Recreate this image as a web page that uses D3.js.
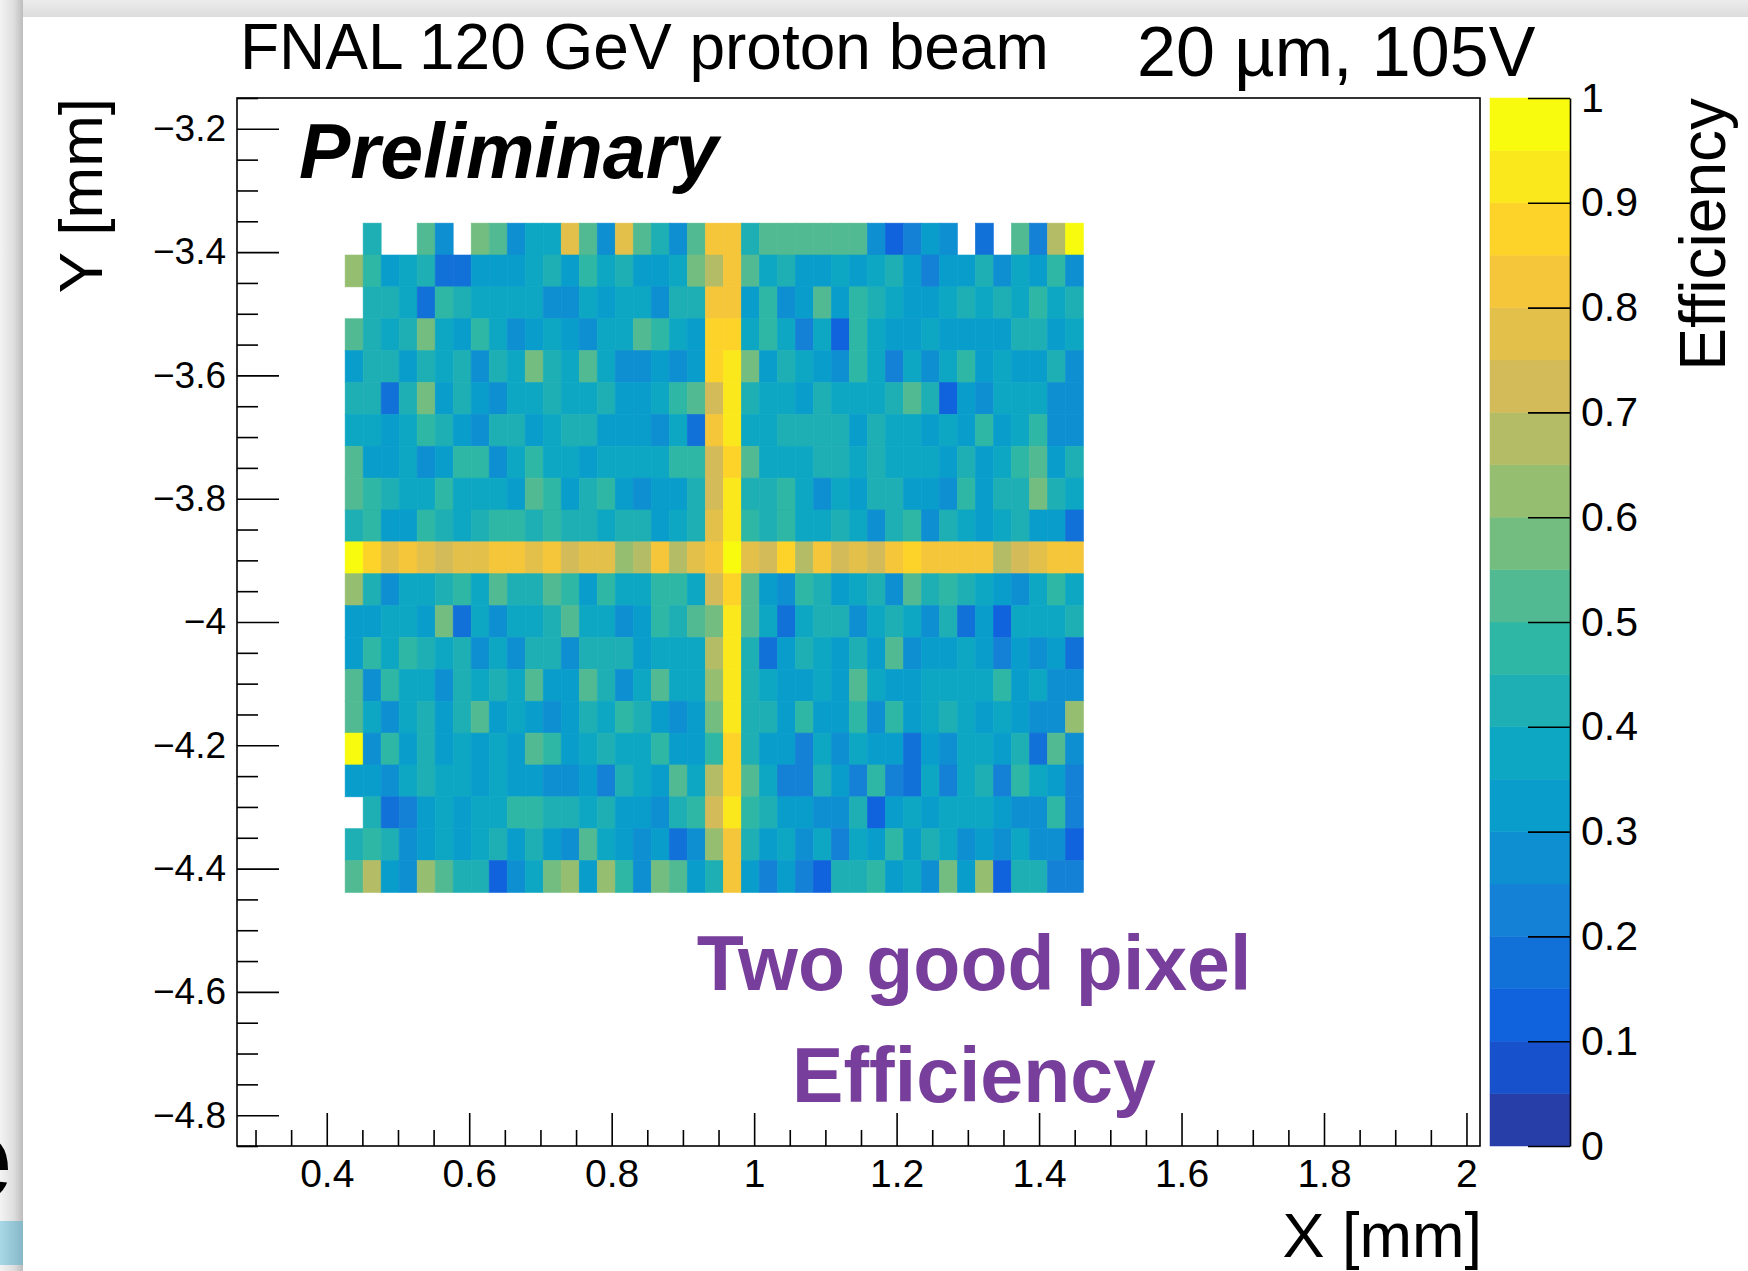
<!DOCTYPE html>
<html lang="en">
<head>
<meta charset="UTF-8">
<title>Two good pixel efficiency</title>
<script src="https://cdn.jsdelivr.net/npm/d3@7"></script>
<style>
    body { margin: 0; background: #fff; }
    svg { display: block; font-family: "Liberation Sans", Arial, Helvetica, sans-serif; }
</style>
</head>
<body>
<div id="chart"></div>
<script>

    // efficiency per bin, one array per Y row (top row first), 41 X bins each, null = no hits
    const effRow0  = [null,.42,null,null,.52,.27,null,.57,.52,.27,.37,.37,.77,.52,.27,.77,.52,.42,.27,.52,.82,.82,.42,.52,.52,.52,.52,.52,.52,.27,.12,.22,.32,.27,null,.17,null,.52,.22,.67,.97];
    const effRow1  = [.62,.47,.32,.37,.42,.17,.17,.32,.32,.32,.37,.42,.32,.47,.37,.42,.32,.32,.37,.57,.67,.82,.52,.37,.42,.32,.32,.37,.32,.37,.42,.32,.22,.32,.32,.42,.27,.37,.32,.47,.27];
    const effRow2  = [null,.42,.42,.37,.17,.47,.42,.37,.37,.37,.37,.27,.27,.37,.32,.37,.37,.27,.42,.42,.82,.82,.32,.47,.27,.32,.52,.32,.47,.42,.37,.32,.32,.37,.42,.37,.42,.37,.47,.37,.42];
    const effRow3  = [.52,.42,.37,.42,.57,.37,.32,.47,.37,.27,.32,.37,.32,.27,.37,.37,.52,.47,.37,.32,.87,.87,.37,.47,.37,.22,.37,.12,.47,.37,.32,.32,.37,.32,.32,.32,.32,.42,.42,.32,.37];
    const effRow4  = [.32,.42,.42,.32,.42,.37,.42,.27,.42,.37,.57,.42,.37,.52,.37,.27,.27,.32,.27,.32,.87,.92,.57,.32,.42,.37,.32,.27,.47,.37,.22,.37,.27,.37,.47,.32,.37,.32,.32,.42,.27];
    const effRow5  = [.42,.42,.17,.42,.57,.32,.42,.32,.27,.37,.37,.42,.37,.37,.42,.32,.32,.37,.47,.52,.72,.92,.42,.37,.37,.32,.42,.37,.37,.37,.42,.52,.42,.12,.32,.27,.37,.37,.37,.27,.27];
    const effRow6  = [.37,.37,.32,.37,.47,.42,.32,.27,.42,.42,.32,.37,.42,.42,.32,.32,.32,.27,.37,.17,.82,.92,.37,.37,.42,.42,.42,.42,.32,.42,.37,.37,.32,.37,.32,.47,.32,.37,.47,.27,.27];
    const effRow7  = [.52,.32,.32,.37,.27,.32,.47,.47,.27,.37,.47,.37,.37,.32,.37,.37,.37,.37,.47,.47,.72,.87,.52,.37,.37,.37,.42,.42,.37,.42,.37,.37,.37,.32,.42,.32,.37,.47,.52,.32,.42];
    const effRow8  = [.52,.47,.42,.37,.37,.47,.37,.37,.37,.32,.52,.47,.32,.42,.47,.32,.27,.32,.32,.42,.72,.92,.42,.42,.47,.37,.27,.37,.32,.42,.42,.32,.32,.27,.47,.32,.42,.42,.57,.42,.37];
    const effRow9  = [.42,.47,.32,.32,.47,.42,.37,.42,.47,.47,.42,.47,.42,.42,.37,.42,.42,.32,.37,.42,.77,.92,.47,.42,.47,.37,.37,.42,.37,.27,.42,.47,.27,.42,.37,.32,.37,.42,.32,.32,.17];
    const effRow10 = [.97,.87,.77,.82,.77,.72,.77,.77,.82,.82,.77,.82,.72,.77,.77,.62,.67,.82,.67,.77,.82,.97,.77,.72,.87,.67,.82,.72,.77,.72,.82,.87,.82,.82,.82,.82,.67,.72,.77,.82,.82];
    const effRow11 = [.62,.42,.27,.37,.37,.42,.47,.37,.52,.42,.42,.52,.47,.32,.47,.37,.37,.47,.47,.37,.72,.87,.52,.32,.27,.47,.42,.32,.37,.42,.27,.52,.42,.47,.42,.37,.32,.27,.37,.47,.37];
    const effRow12 = [.32,.32,.37,.37,.32,.57,.17,.37,.27,.37,.37,.42,.52,.37,.37,.27,.32,.47,.42,.52,.57,.92,.52,.37,.17,.37,.42,.42,.27,.37,.42,.37,.27,.42,.17,.32,.12,.37,.37,.37,.42];
    const effRow13 = [.32,.47,.37,.47,.42,.37,.42,.27,.37,.27,.42,.42,.27,.42,.42,.42,.32,.37,.37,.37,.67,.92,.42,.17,.32,.42,.37,.32,.42,.32,.52,.27,.32,.32,.37,.32,.22,.32,.27,.32,.17];
    const effRow14 = [.52,.27,.47,.37,.37,.27,.42,.37,.42,.37,.52,.32,.32,.52,.42,.27,.37,.52,.37,.37,.62,.92,.42,.37,.32,.32,.37,.32,.52,.37,.32,.32,.37,.37,.37,.37,.47,.32,.37,.27,.27];
    const effRow15 = [.52,.37,.27,.37,.42,.32,.42,.52,.32,.37,.32,.27,.32,.42,.37,.47,.42,.32,.27,.32,.57,.92,.42,.42,.32,.47,.32,.32,.47,.27,.47,.32,.37,.42,.37,.32,.37,.32,.27,.27,.62];
    const effRow16 = [.97,.27,.47,.32,.42,.32,.37,.32,.37,.32,.52,.47,.32,.37,.42,.37,.37,.47,.32,.32,.47,.87,.42,.32,.32,.22,.37,.27,.37,.32,.32,.17,.32,.27,.37,.37,.32,.42,.17,.52,.27];
    const effRow17 = [.32,.32,.27,.37,.42,.37,.37,.32,.37,.32,.32,.27,.27,.32,.22,.42,.37,.32,.52,.37,.67,.87,.52,.37,.22,.22,.42,.32,.22,.47,.22,.17,.37,.22,.37,.42,.22,.47,.37,.32,.22];
    const effRow18 = [null,.42,.17,.22,.32,.37,.32,.37,.37,.47,.47,.42,.42,.37,.42,.32,.32,.27,.42,.47,.72,.92,.47,.42,.32,.32,.27,.27,.42,.12,.32,.37,.32,.37,.37,.37,.32,.27,.27,.47,.22];
    const effRow19 = [.42,.47,.42,.27,.32,.37,.32,.37,.42,.32,.42,.32,.27,.52,.37,.32,.27,.32,.17,.27,.62,.82,.42,.32,.37,.27,.37,.22,.37,.32,.47,.32,.42,.37,.27,.32,.27,.37,.27,.27,.12];
    const effRow20 = [.52,.67,.32,.27,.62,.52,.42,.42,.12,.27,.37,.57,.62,.32,.62,.47,.27,.57,.52,.32,.42,.82,.32,.22,.32,.22,.12,.42,.42,.47,.32,.37,.27,.57,.32,.62,.12,.42,.42,.22,.22];

    const effRows = [effRow0, effRow1, effRow2, effRow3, effRow4, effRow5, effRow6, effRow7, effRow8, effRow9, effRow10,
        effRow11, effRow12, effRow13, effRow14, effRow15, effRow16, effRow17, effRow18, effRow19, effRow20];

    // histogram binning [mm]
    const xBinLo = 0.4258, xBinW = 0.02528;
    const yBinHi = -3.353, yBinH = 0.0517;

    // tick labels
    const xTicks = [0.4, 0.6, 0.8, 1, 1.2, 1.4, 1.6, 1.8, 2];
    const yTicks = [-3.2, -3.4, -3.6, -3.8, -4, -4.2, -4.4, -4.6, -4.8];
    const zTicks = [0, 0.1, 0.2, 0.3, 0.4, 0.5, 0.6, 0.7, 0.8, 0.9, 1];

    const W = 1748, H = 1271;
    const frame = {left: 237, right: 1480, top: 98, bottom: 1146};

    const svg = d3.select("#chart")
        .append("svg")
        .attr("width", W)
        .attr("height", H);

    const defs = svg.append("defs");
    const gTop = defs.append("linearGradient").attr("id", "gTop").attr("x1", 0).attr("x2", 0).attr("y1", 0).attr("y2", 1);
    gTop.append("stop").attr("offset", 0).attr("stop-color", "#ececec");
    gTop.append("stop").attr("offset", 1).attr("stop-color", "#dcdcdc");
    const gLeft = defs.append("linearGradient").attr("id", "gLeft");
    gLeft.append("stop").attr("offset", 0).attr("stop-color", "#f3f3f3");
    gLeft.append("stop").attr("offset", 0.6).attr("stop-color", "#dedede");
    gLeft.append("stop").attr("offset", 1).attr("stop-color", "#bdbdbd");
    const gBlue = defs.append("linearGradient").attr("id", "gBlue");
    gBlue.append("stop").attr("offset", 0).attr("stop-color", "#a8d8e6");
    gBlue.append("stop").attr("offset", 1).attr("stop-color", "#86b8c8");

    // slide background bits around the picture
    svg.append("rect").attr("width", W).attr("height", H).attr("fill", "#fff");
    svg.append("rect").attr("width", W).attr("height", 17).attr("fill", "url(#gTop)");
    svg.append("rect").attr("width", 23).attr("height", H).attr("fill", "url(#gLeft)");
    svg.append("rect").attr("y", 1221).attr("width", 23).attr("height", 44).attr("fill", "url(#gBlue)");
    svg.append("text").attr("x", -52).attr("y", 1198)
        .attr("font-size", 115).attr("font-weight", "bold").text("e");

    // scales
    const x = d3.scaleLinear().domain([0.274, 2.019]).range([frame.left, frame.right]);
    const y = d3.scaleLinear().domain([-4.85, -3.15]).range([frame.bottom, frame.top]);
    const z = d3.scaleLinear().domain([0, 1]).range([frame.bottom, frame.top]);

    // ROOT kBird palette, 20 contours
    const birdStops = [0, 0.125, 0.25, 0.375, 0.5, 0.625, 0.75, 0.875, 1];
    const birdCols = ["rgb(53,42,135)", "rgb(15,92,221)", "rgb(20,129,214)", "rgb(6,164,202)", "rgb(46,183,164)",
        "rgb(135,191,119)", "rgb(209,187,89)", "rgb(254,200,50)", "rgb(249,251,14)"];
    const bird = d3.scaleLinear().domain(birdStops).range(birdCols).interpolate(d3.interpolateRgb);
    const nCont = 20;
    const contColor = i => bird(Math.floor((i + 0.99) * 255 / nCont) / 254);
    const cellColor = v => contColor(Math.max(0, Math.min(nCont - 1, Math.floor(v * nCont + 1e-9))));

    // cells
    const cells = [];
    effRows.forEach((row, r) => row.forEach((v, c) => {
        if (v !== null) cells.push({r: r, c: c, v: v});
    }));

    svg.append("g")
        .selectAll("rect")
        .data(cells)
        .enter()
        .append("rect")
        .attr("x", d => x(xBinLo + d.c * xBinW))
        .attr("width", d => x(xBinLo + (d.c + 1) * xBinW) - x(xBinLo + d.c * xBinW))
        .attr("y", d => y(yBinHi - d.r * yBinH))
        .attr("height", d => y(yBinHi - (d.r + 1) * yBinH) - y(yBinHi - d.r * yBinH))
        .attr("fill", d => cellColor(d.v))
        .attr("stroke", d => cellColor(d.v))
        .attr("stroke-width", 0.6);

    // frame
    svg.append("rect")
        .attr("x", frame.left).attr("y", frame.top)
        .attr("width", frame.right - frame.left).attr("height", frame.bottom - frame.top)
        .attr("fill", "none").attr("stroke", "#000").attr("stroke-width", 1.6);

    // x axis
    const xMinor = d3.range(0.3, 2.01, 0.05).filter(v => !xTicks.some(t => Math.abs(t - v) < 1e-6));
    svg.append("g")
        .attr("transform", "translate(0," + frame.bottom + ")")
        .call(d3.axisBottom(x).tickValues(xMinor).tickFormat("").tickSizeInner(-16).tickSizeOuter(0))
        .call(g => g.select(".domain").remove());
    svg.append("g")
        .attr("class", "axis-x")
        .attr("transform", "translate(0," + frame.bottom + ")")
        .call(d3.axisBottom(x).tickValues(xTicks).tickFormat(d3.format("~g")).tickSizeInner(-33).tickSizeOuter(0).tickPadding(13))
        .call(g => g.select(".domain").remove());

    // y axis
    const yMinor = d3.range(-3.15, -4.86, -0.05).filter(v => !yTicks.some(t => Math.abs(t - v) < 1e-6));
    svg.append("g")
        .attr("transform", "translate(" + frame.left + ",0)")
        .call(d3.axisLeft(y).tickValues(yMinor).tickFormat("").tickSizeInner(-21).tickSizeOuter(0))
        .call(g => g.select(".domain").remove());
    svg.append("g")
        .attr("class", "y-axis")
        .attr("transform", "translate(" + frame.left + ",0)")
        .call(d3.axisLeft(y).tickValues(yTicks).tickFormat(d3.format("~g")).tickSizeInner(-42).tickSizeOuter(0).tickPadding(11))
        .call(g => g.select(".domain").remove());

    svg.selectAll(".axis-x text").attr("font-size", 39).attr("font-family", "Liberation Sans, Arial, sans-serif").attr("fill", "#000");
    svg.selectAll(".y-axis text").attr("font-size", 37).attr("font-family", "Liberation Sans, Arial, sans-serif").attr("fill", "#000");
    svg.selectAll(".tick line").attr("stroke", "#000").attr("stroke-width", 1.6);

    // colour bar
    const zBar = {left: 1490, right: 1570};
    svg.append("g")
        .selectAll("rect")
        .data(d3.range(nCont))
        .enter()
        .append("rect")
        .attr("x", zBar.left)
        .attr("width", zBar.right - zBar.left)
        .attr("y", i => z((i + 1) / nCont))
        .attr("height", i => z(i / nCont) - z((i + 1) / nCont))
        .attr("fill", i => contColor(i))
        .attr("stroke", i => contColor(i))
        .attr("stroke-width", 0.5);

    const zAxis = svg.append("g")
        .attr("class", "z-axis")
        .attr("transform", "translate(" + zBar.right + ",0)")
        .call(d3.axisRight(z).tickValues(zTicks).tickFormat(d3.format("~g")).tickSizeInner(-42).tickSizeOuter(0).tickPadding(11));
    zAxis.select(".domain").attr("stroke", "#000").attr("stroke-width", 1.6);
    zAxis.selectAll("line").attr("stroke", "#000").attr("stroke-width", 1.6);
    zAxis.selectAll("text").attr("font-size", 41).attr("font-family", "Liberation Sans, Arial, sans-serif").attr("fill", "#000");

    // titles
    svg.append("text").attr("x", 240).attr("y", 69).attr("font-size", 64).text("FNAL 120 GeV proton beam");
    svg.append("text").attr("x", 1137).attr("y", 76).attr("font-size", 70).text("20 \u00b5m, 105V");
    svg.append("text").attr("x", 1482).attr("y", 1257).attr("font-size", 63).attr("text-anchor", "end").text("X [mm]");
    svg.append("text").attr("transform", "translate(102," + frame.top + ") rotate(-90)")
        .attr("font-size", 62).attr("text-anchor", "end").text("Y [mm]");
    svg.append("text").attr("transform", "translate(1725," + frame.top + ") rotate(-90)")
        .attr("font-size", 64).attr("text-anchor", "end").text("Efficiency");

    svg.append("text").attr("x", 299).attr("y", 178)
        .attr("font-size", 77).attr("font-weight", "bold").attr("font-style", "italic").text("Preliminary");

    const purple = "#773f9b";
    svg.append("text").attr("x", 974).attr("y", 990).attr("font-size", 77).attr("font-weight", "bold")
        .attr("text-anchor", "middle").attr("fill", purple).text("Two good pixel");
    svg.append("text").attr("x", 974).attr("y", 1102).attr("font-size", 77).attr("font-weight", "bold")
        .attr("text-anchor", "middle").attr("fill", purple).text("Efficiency");

</script>
</body>
</html>
